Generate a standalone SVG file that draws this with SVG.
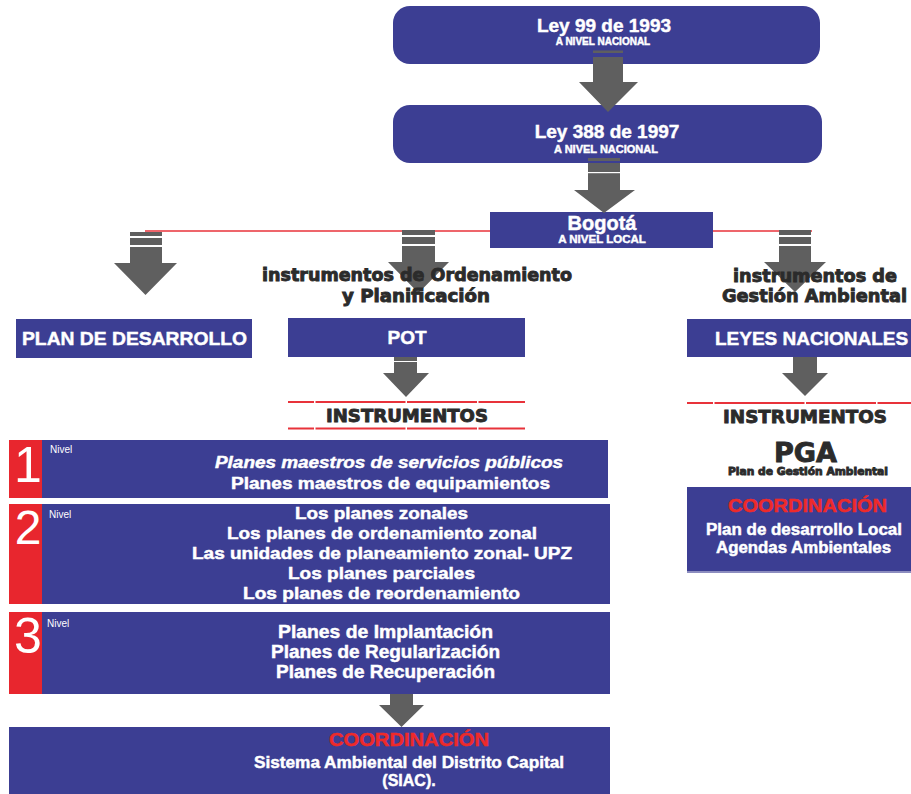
<svg xmlns="http://www.w3.org/2000/svg" width="911" height="794" viewBox="0 0 911 794">
<style>
.box{fill:#3c3e93}
.red{fill:#e8262e}
.arrow{fill:#5f5f5f}
.gap{fill:#ffffff}
.w{fill:#ffffff;stroke:#ffffff;stroke-width:0.45;font-family:"Liberation Sans",Arial,sans-serif;font-weight:bold}
.n{fill:#ffffff;font-family:"Liberation Sans",Arial,sans-serif;font-weight:normal}
.h{fill:#2b2b2b;stroke:#2b2b2b;stroke-width:0.9;font-family:"DejaVu Sans",sans-serif;font-weight:bold}
.rt{fill:#ee2a2a;stroke:#ee2a2a;stroke-width:0.5;font-family:"Liberation Sans",Arial,sans-serif;font-weight:bold}
.rline{stroke:#e8323a;stroke-width:1.6;fill:none}
.dline{stroke:#e8323a;stroke-width:1.8;fill:none;stroke-dasharray:26 1.5 90 1.5 70 1.5 60 1.5}
</style>
<rect width="911" height="794" fill="#ffffff"/>

<g id="connectors">
  <line class="rline" x1="145" y1="231" x2="812" y2="231"/>
</g>

<g id="ley99">
  <rect class="box" x="393" y="6" width="427" height="58" rx="17"/>
  <text class="w" x="604" y="32" font-size="19" text-anchor="middle">Ley 99 de 1993</text>
  <text class="w" x="603" y="45" font-size="10" stroke-width="0.3" text-anchor="middle">A NIVEL NACIONAL</text>
</g>

<g id="ley388">
  <rect class="box" x="393" y="105" width="429" height="58" rx="17"/>
  <text class="w" x="607" y="138" font-size="19" text-anchor="middle">Ley 388 de 1997</text>
  <text class="w" x="606" y="153" font-size="11" stroke-width="0.3" text-anchor="middle">A NIVEL NACIONAL</text>
</g>

<g id="bogota">
  <rect class="box" x="490" y="212" width="223" height="36"/>
  <text class="w" x="602" y="230" font-size="20" text-anchor="middle">Bogotá</text>
  <text class="w" x="602" y="243" font-size="11.5" stroke-width="0.3" text-anchor="middle">A NIVEL LOCAL</text>
</g>

<g id="arrows">
  <rect class="arrow" x="593" y="50.5" width="30" height="2.5"/>
  <polygon class="arrow" points="593,57 623,57 623,82 638,82 608,112 579,82 593,82"/>
  <rect class="arrow" x="588" y="158" width="32" height="3"/>
  <polygon class="arrow" points="588,163 620,163 620,190 635,190 604,213 574,190 588,190"/>
  <rect class="gap" x="588" y="172" width="32" height="1.2"/>
  <rect class="arrow" x="130" y="232" width="32" height="4"/>
  <rect class="arrow" x="130" y="238" width="32" height="7"/>
  <polygon class="arrow" points="130,247 162,247 162,263 177,263 145.5,295 114,263 130,263"/>
  <rect class="arrow" x="402" y="230" width="33" height="5"/>
  <rect class="arrow" x="402" y="237" width="33" height="7"/>
  <polygon class="arrow" points="402,246 435,246 435,262 449,262 418.5,293 388,262 402,262"/>
  <rect class="arrow" x="779" y="230" width="32" height="5"/>
  <rect class="arrow" x="779" y="237" width="32" height="7"/>
  <polygon class="arrow" points="779,246 811,246 811,262 826,262 795,292 764,262 779,262"/>
  <rect class="arrow" x="394" y="352" width="23" height="2.5"/>
  <polygon class="arrow" points="394,357 417,357 417,373 429,373 406,397 383,373 394,373"/>
  <rect class="gap" x="394" y="361" width="23" height="1"/>
  <rect class="arrow" x="793" y="351" width="24" height="2.5"/>
  <polygon class="arrow" points="793,356 817,356 817,373 828,373 805,396 782,373 793,373"/>
  <polygon class="arrow" points="390,688 413,688 413,705 424,705 401.5,727 379,705 390,705"/>
</g>

<g id="labels-ordenamiento">
  <text class="h" x="417" y="281" font-size="17.5" text-anchor="middle" textLength="310" lengthAdjust="spacingAndGlyphs">instrumentos de Ordenamiento</text>
  <text class="h" x="416" y="302" font-size="17.5" text-anchor="middle" textLength="148" lengthAdjust="spacingAndGlyphs">y Planificación</text>
</g>

<g id="labels-gestion">
  <text class="h" x="815" y="282" font-size="17.5" text-anchor="middle" textLength="164" lengthAdjust="spacingAndGlyphs">instrumentos de</text>
  <text class="h" x="814.5" y="302" font-size="17.5" text-anchor="middle" textLength="185" lengthAdjust="spacingAndGlyphs">Gestión Ambiental</text>
</g>

<g id="plan-desarrollo">
  <rect class="box" x="16" y="319" width="236" height="39"/>
  <text class="w" x="134.5" y="345" font-size="19" text-anchor="middle" textLength="225" lengthAdjust="spacingAndGlyphs">PLAN DE DESARROLLO</text>
</g>

<g id="pot">
  <rect class="box" x="288" y="318" width="237" height="39"/>
  <text class="w" x="407" y="344" font-size="19" text-anchor="middle">POT</text>
</g>

<g id="leyes-nacionales">
  <rect class="box" x="687" y="319" width="224" height="38"/>
  <text class="w" x="715" y="345" font-size="19">LEYES NACIONALES</text>
</g>

<g id="instrumentos-pot">
  <line class="dline" x1="288" y1="402" x2="525" y2="402"/>
  <text class="h" x="407" y="422" font-size="18" text-anchor="middle" textLength="162" lengthAdjust="spacingAndGlyphs">INSTRUMENTOS</text>
  <line class="dline" x1="288" y1="428.5" x2="525" y2="428.5"/>
</g>

<g id="instrumentos-pga">
  <line class="dline" x1="687" y1="403" x2="911" y2="403"/>
  <text class="h" x="805" y="423" font-size="18" text-anchor="middle" textLength="164" lengthAdjust="spacingAndGlyphs">INSTRUMENTOS</text>
  <text class="h" x="805.5" y="462" font-size="27" text-anchor="middle" textLength="63" lengthAdjust="spacingAndGlyphs">PGA</text>
  <text class="h" x="808" y="475" font-size="10.5" stroke-width="0.4" text-anchor="middle" textLength="160" lengthAdjust="spacingAndGlyphs">Plan de Gestión Ambiental</text>
</g>

<g id="coordinacion-local">
  <rect class="box" x="687" y="487" width="224" height="84"/>
  <rect x="687" y="571" width="224" height="2" fill="#8c8dbf"/>
  <text class="rt" x="807.5" y="512" font-size="19" text-anchor="middle" textLength="159" lengthAdjust="spacingAndGlyphs">COORDINACIÓN</text>
  <text class="w" x="804" y="535" font-size="16" text-anchor="middle" textLength="196" lengthAdjust="spacingAndGlyphs">Plan de desarrollo Local</text>
  <text class="w" x="803.5" y="553" font-size="16" text-anchor="middle" textLength="175" lengthAdjust="spacingAndGlyphs">Agendas Ambientales</text>
</g>

<g id="nivel1">
  <rect class="box" x="9" y="440" width="599" height="58"/>
  <rect class="red" x="9" y="440" width="33" height="58"/>
  <text class="n" x="28" y="482" font-size="50" text-anchor="middle">1</text>
  <text class="n" x="50" y="453" font-size="10">Nivel</text>
  <text class="w" x="389" y="468" font-size="16" font-style="italic" text-anchor="middle" textLength="348" lengthAdjust="spacingAndGlyphs">Planes maestros de servicios públicos</text>
  <text class="w" x="390.5" y="489" font-size="16" text-anchor="middle" textLength="319" lengthAdjust="spacingAndGlyphs">Planes maestros de equipamientos</text>
</g>

<g id="nivel2">
  <rect class="box" x="9" y="504" width="601" height="100"/>
  <rect class="red" x="9" y="504" width="33" height="100"/>
  <text class="n" x="28" y="544" font-size="48" text-anchor="middle">2</text>
  <text class="n" x="49" y="518" font-size="10">Nivel</text>
  <text class="w" x="381.5" y="519" font-size="16" text-anchor="middle" textLength="173" lengthAdjust="spacingAndGlyphs">Los planes zonales</text>
  <text class="w" x="382" y="539" font-size="16" text-anchor="middle" textLength="310" lengthAdjust="spacingAndGlyphs">Los planes de ordenamiento zonal</text>
  <text class="w" x="382" y="559" font-size="16" text-anchor="middle" textLength="380" lengthAdjust="spacingAndGlyphs">Las unidades de planeamiento zonal- UPZ</text>
  <text class="w" x="381.5" y="579" font-size="16" text-anchor="middle" textLength="187" lengthAdjust="spacingAndGlyphs">Los planes parciales</text>
  <text class="w" x="381.5" y="599" font-size="16" text-anchor="middle" textLength="277" lengthAdjust="spacingAndGlyphs">Los planes de reordenamiento</text>
</g>

<g id="nivel3">
  <rect class="box" x="9" y="612" width="601" height="82"/>
  <rect class="red" x="9" y="612" width="33" height="82"/>
  <text class="n" x="28" y="653" font-size="50" text-anchor="middle">3</text>
  <text class="n" x="47" y="627" font-size="10">Nivel</text>
  <text class="w" x="385.5" y="638" font-size="18" text-anchor="middle" textLength="215" lengthAdjust="spacingAndGlyphs">Planes de Implantación</text>
  <text class="w" x="385.5" y="658" font-size="18" text-anchor="middle" textLength="229" lengthAdjust="spacingAndGlyphs">Planes de Regularización</text>
  <text class="w" x="385.5" y="678" font-size="18" text-anchor="middle" textLength="219" lengthAdjust="spacingAndGlyphs">Planes de Recuperación</text>
</g>

<g id="coordinacion-siac">
  <rect class="box" x="9" y="727" width="601" height="67"/>
  <text class="rt" x="409" y="746" font-size="19" text-anchor="middle" textLength="160" lengthAdjust="spacingAndGlyphs">COORDINACIÓN</text>
  <text class="w" x="409" y="768" font-size="16" text-anchor="middle" textLength="310" lengthAdjust="spacingAndGlyphs">Sistema Ambiental del Distrito Capital</text>
  <text class="w" x="409" y="786" font-size="16" text-anchor="middle">(SIAC).</text>
</g>
</svg>
